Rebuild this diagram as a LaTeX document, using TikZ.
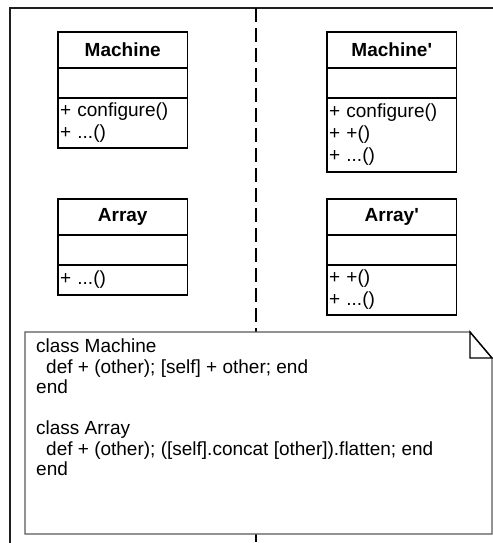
\documentclass[tikz,border=0pt]{standalone}
\usepackage{fontspec}
\setmainfont{Liberation Sans}[Ligatures=TeXOff]
\usetikzlibrary{calc}
\begin{document}
\begin{tikzpicture}[x=1bp,y=-1bp,
  box/.style={draw, line width=1.4bp, anchor=north west, minimum width=129.5bp, inner sep=0pt, outer sep=0pt},
  hdr/.style={box, minimum height=36bp, font=\fontsize{19bp}{22bp}\selectfont\bfseries},
  attr/.style={box, minimum height=30bp},
  meth/.style={box, text width=125.5bp, align=left, font=\fontsize{19bp}{22bp}\selectfont},
  frameline/.style={draw=black!88, line width=1.5bp},
  sepline/.style={draw=black, line width=1.5bp, dash pattern=on 14bp off 6bp},
  noteedge/.style={draw=black!65, line width=1.1bp, fill=white},
  notefold/.style={draw=black, line width=1.4bp},
  notetxt/.style={anchor=north west, inner sep=0pt, align=left, font=\fontsize{19bp}{20.5bp}\selectfont}]
\useasboundingbox (0,0) rectangle (493,543);
\clip (0,0) rectangle (493,543);
% frame
\coordinate (ftl) at (10,8);
\coordinate (fbr) at (510,560);
\draw[frameline] (ftl) rectangle (fbr);
% separator
\coordinate (sept) at (256,8);
\coordinate (sepb) at (256,560);
\draw[sepline] (sept) -- (sepb);
% Machine
\node[hdr] (mh) at (58,32) {Machine};
\node[attr] (ma) at (mh.south west) {};
\node[meth, minimum height=50bp] (mm) at (ma.south west) {\raisebox{-2bp}{}+ configure()\\+ ...()};
% Array
\node[hdr] (ah) at (58,199) {Array};
\node[attr] (aa) at (ah.south west) {};
\node[meth, minimum height=30bp] (am) at (aa.south west) {+ ...()};
% Machine'
\node[hdr] (mph) at (327,32) {Machine'};
\node[attr] (mpa) at (mph.south west) {};
\node[meth, minimum height=74bp] (mpm) at (mpa.south west) {+ configure()\\+ +()\\+ ...()};
% Array'
\node[hdr] (aph) at (327,199) {Array'};
\node[attr] (apa) at (aph.south west) {};
\node[meth, minimum height=50bp] (apm) at (apa.south west) {+ +()\\+ ...()};
% note
\node[anchor=north west, minimum width=467bp, minimum height=202bp, inner sep=0pt, outer sep=0pt] (note) at (25,332) {};
\coordinate (fa) at ($(note.north east)+(-22,0)$);
\coordinate (fb) at ($(note.north east)+(0,26)$);
\coordinate (fc) at ($(fa)+(0,26)$);
\path[noteedge] (note.north west) -- (fa) -- (fb) -- (note.south east) -- (note.south west) -- cycle;
\draw[notefold] (fa) -- (fb) -- (fc) -- cycle;
\node[notetxt] (code) at (36,339) {class Machine\\
\hspace*{10bp}def + (other); [self] + other; end\\
end\\
\mbox{}\\
class Array\\
\hspace*{10bp}def + (other); ([self].concat [other]).flatten; end\\
end};
\end{tikzpicture}
\end{document}
